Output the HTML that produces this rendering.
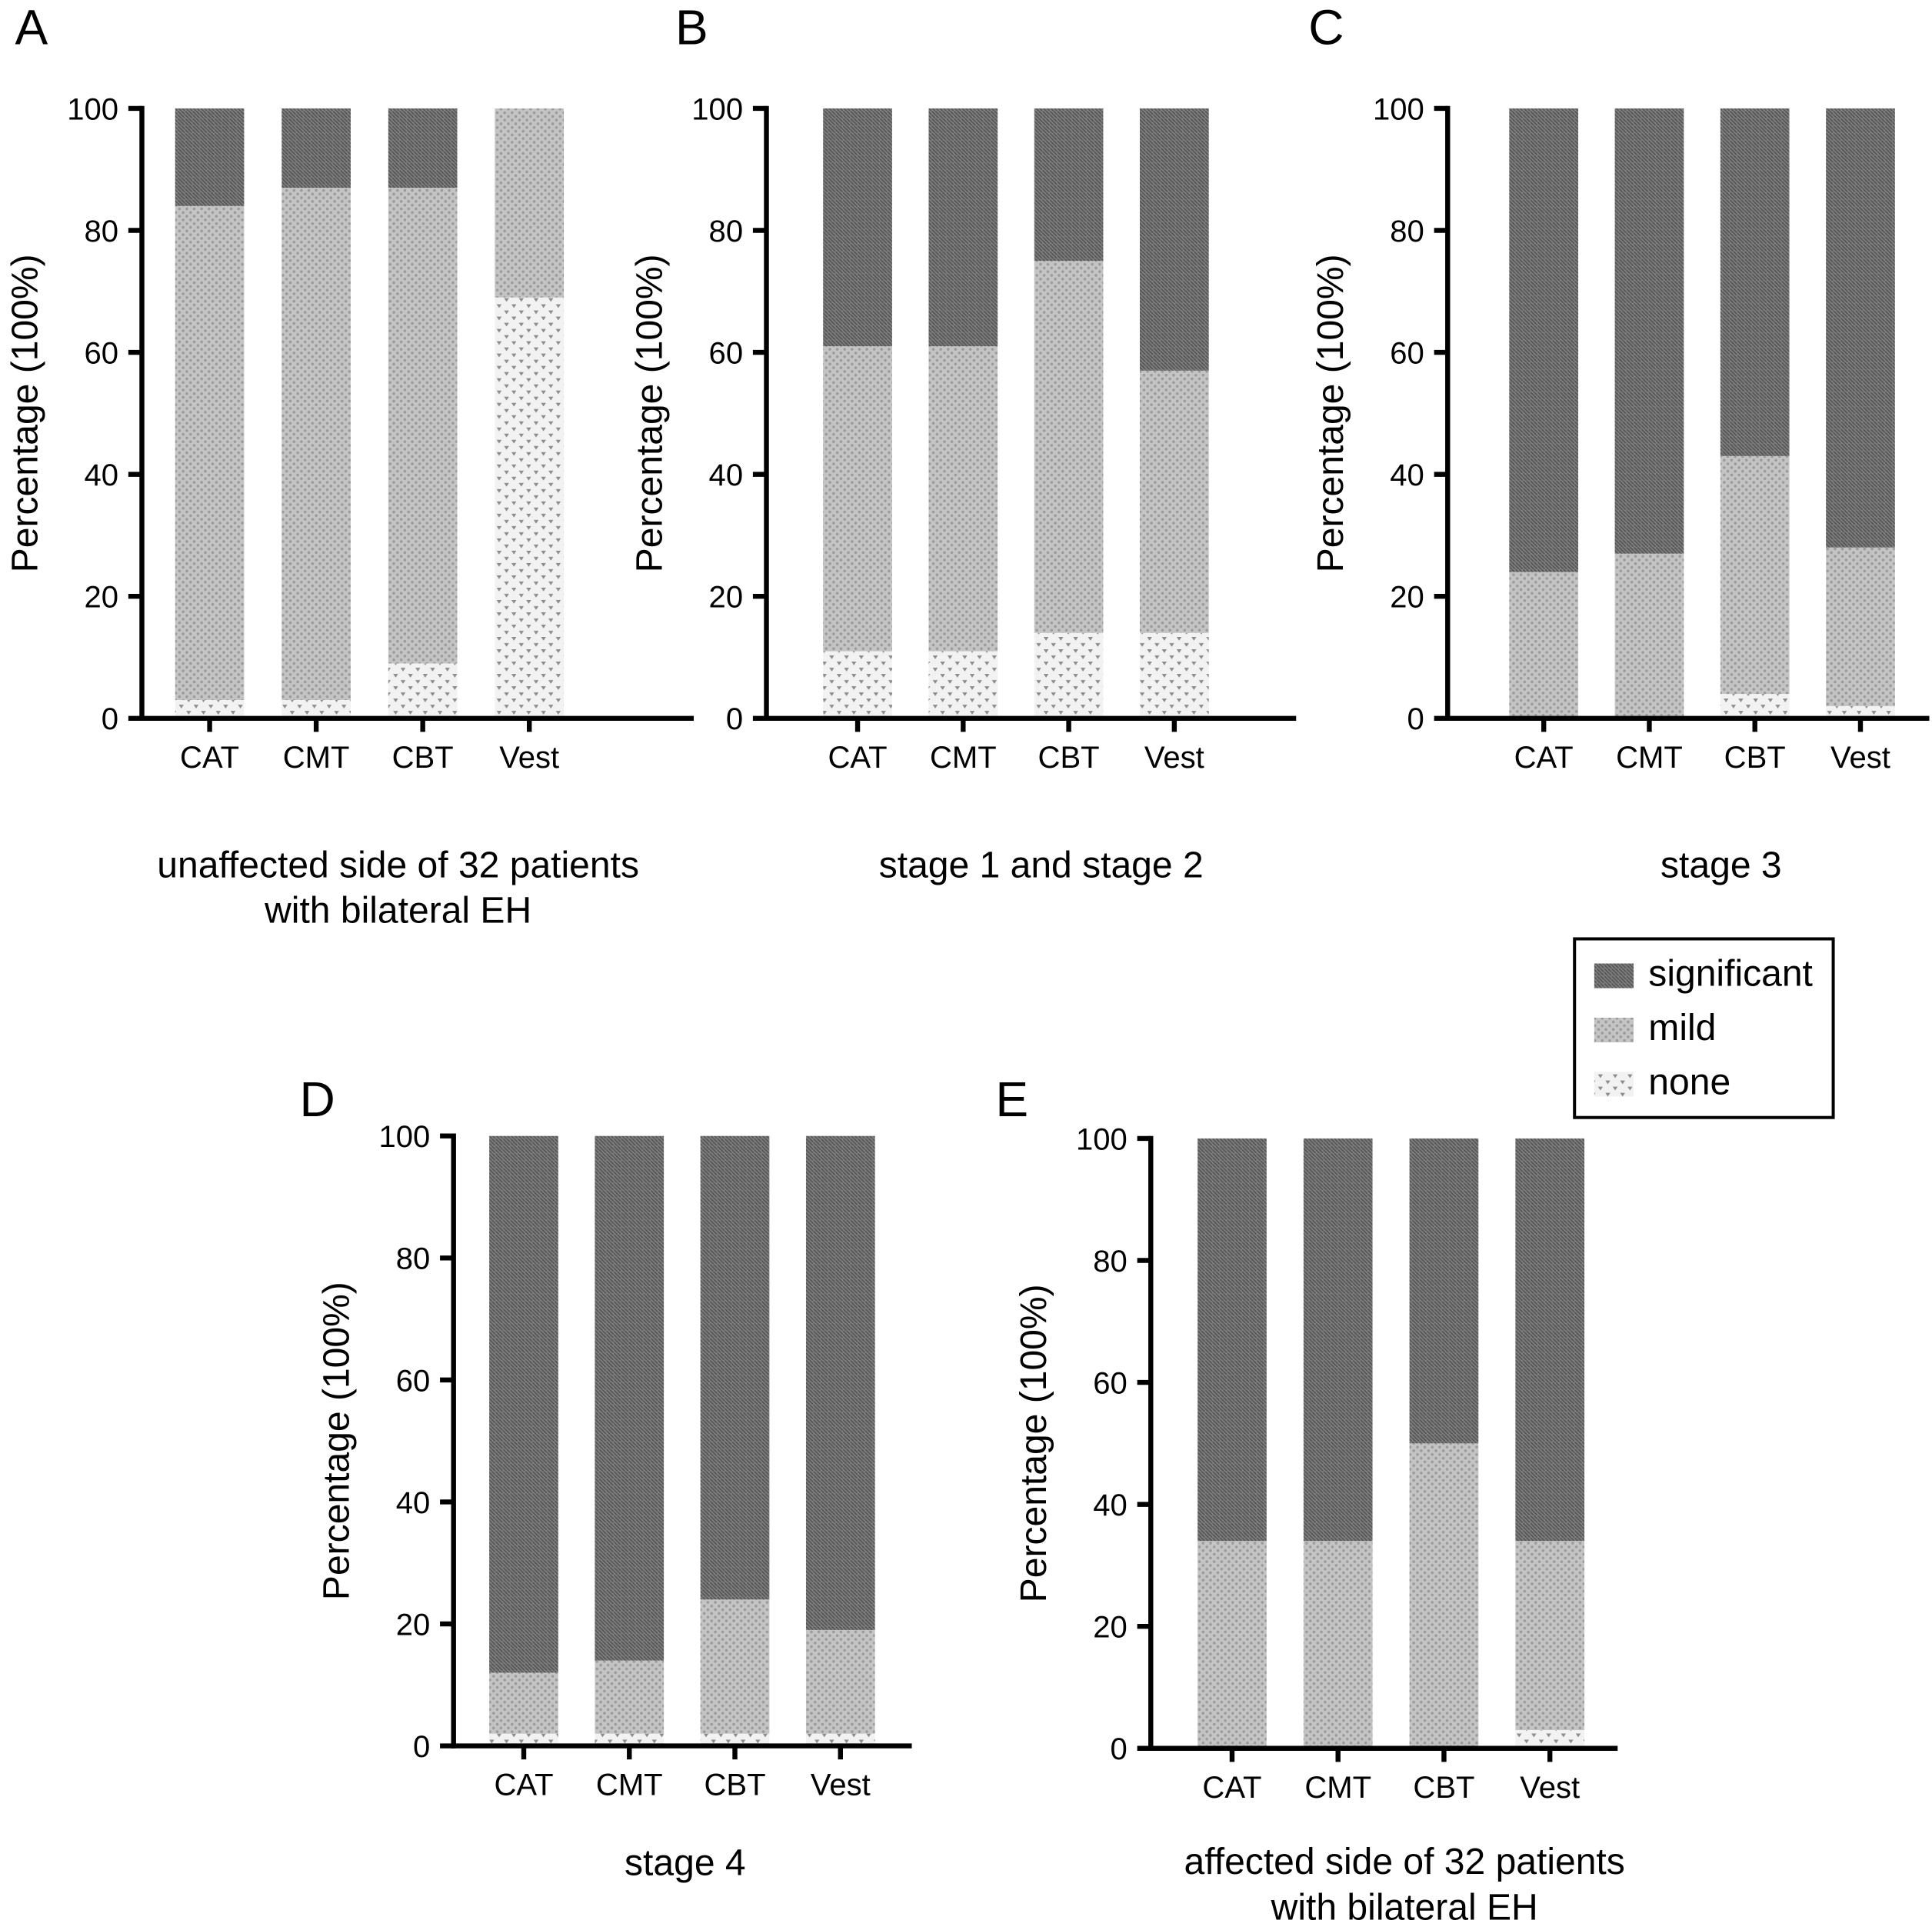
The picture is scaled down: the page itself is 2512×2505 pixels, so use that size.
<!DOCTYPE html>
<html><head><meta charset="utf-8"><style>
html,body{margin:0;padding:0;background:#fff}
svg{display:block}
text{font-family:"Liberation Sans",sans-serif;fill:#000}
</style></head><body>
<svg id="fig" width="2512" height="2505" viewBox="0 0 1568 1564" xmlns="http://www.w3.org/2000/svg">
<defs>
<pattern id="pSig" width="6" height="6" patternUnits="userSpaceOnUse">
<rect width="6" height="6" fill="#858585"/><path d="M0 0L6 6M0 3L3 6M3 0L6 3" stroke="#585858" stroke-width="1.3"/></pattern>
<pattern id="pMild" width="6" height="6" patternUnits="userSpaceOnUse">
<rect width="6" height="6" fill="#c4c4c4"/><circle cx="1.5" cy="1.5" r="1.1" fill="#9a9a9a"/><circle cx="4.5" cy="4.5" r="1.1" fill="#9a9a9a"/></pattern>
<pattern id="pNone" width="12" height="10" patternUnits="userSpaceOnUse">
<rect width="12" height="10" fill="#f2f2f2"/><path d="M1 2L3 5L5 2Z M7 7L9 10L11 7Z" fill="#8c8c8c"/></pattern>
</defs>
<g id="panels"></g>
<g>
<rect x="1278" y="762" width="210" height="145" fill="#fff" stroke="#000" stroke-width="2.5"/>
<rect x="1294" y="782" width="32" height="20" fill="url(#pSig)"/>
<text x="1338" y="800" font-size="30">significant</text>
<rect x="1294" y="826" width="32" height="20" fill="url(#pMild)"/>
<text x="1338" y="844" font-size="30">mild</text>
<rect x="1294" y="870" width="32" height="20" fill="url(#pNone)"/>
<text x="1338" y="888" font-size="30">none</text>
</g>
</svg>
<script>
const categories = ["CAT","CMT","CBT","Vest"];
const yTicks = [0,20,40,60,80,100];
// cumulative tops: none top, mild top (significant to 100)
const noneA = [3,3,9,69], mildA = [84,87,87,100];
const noneB = [11,11,14,14], mildB = [61,61,75,57];
const noneC = [0,0,4,2], mildC = [24,27,43,28];
const noneD = [2,2,2,2], mildD = [12,14,24,19];
const noneE = [0,0,0,3], mildE = [34,34,50,34];

const NS="http://www.w3.org/2000/svg";
const root=document.getElementById('panels');
function mk(tag,attrs,parent){const e=document.createElementNS(NS,tag);for(const k in attrs)e.setAttribute(k,attrs[k]);parent.appendChild(e);return e;}
const panels=[
 {id:'a',letter:'A',lx:12,ly:36,ax:115,y100:88,y0:583,xend:563,b0:142,step:86.5,title:["unaffected side of 32 patients","with bilateral EH"],tx:323,ty:702,none:noneA,mild:mildA},
 {id:'b',letter:'B',lx:548,ly:36,ax:622,y100:88,y0:583,xend:1052,b0:668,step:85.7,title:["stage 1 and stage 2"],tx:845,ty:702,none:noneB,mild:mildB},
 {id:'c',letter:'C',lx:1062,ly:36,ax:1175,y100:88,y0:583,xend:1566,b0:1225,step:85.7,title:["stage 3"],tx:1397,ty:702,none:noneC,mild:mildC},
 {id:'d',letter:'D',lx:243,ly:906,ax:368,y100:922,y0:1417,xend:740,b0:397,step:85.7,title:["stage 4"],tx:556,ty:1512,none:noneD,mild:mildD},
 {id:'e',letter:'E',lx:808,ly:906,ax:934,y100:924,y0:1419,xend:1313,b0:972,step:86,title:["affected side of 32 patients","with bilateral EH"],tx:1140,ty:1511,none:noneE,mild:mildE}
];
const bw=56;
panels.forEach(p=>{
 const g=mk('g',{},root);
 
 
 const y=v=>p.y0-(p.y0-p.y100)*v/100;
 const t=mk('text',{x:p.lx,y:p.ly,'font-size':40},g);t.textContent=p.letter;
 
 
 categories.forEach((c,i)=>{
  const x=p.b0+i*p.step;
  const segs=[[0,p.none[i],'url(#pNone)','none'],[p.none[i],p.mild[i],'url(#pMild)','mild'],[p.mild[i],100,'url(#pSig)','significant']];
  segs.forEach(s=>{ if(s[1]>s[0]){
   const r=mk('rect',{x:x,y:y(s[1]),width:bw,height:y(s[0])-y(s[1]),fill:s[2]},g);
   
   
  }});
  mk('line',{x1:x+bw/2,x2:x+bw/2,y1:p.y0,y2:p.y0+11,stroke:'#000','stroke-width':4},g);
  const l=mk('text',{x:x+bw/2,y:p.y0+40,'font-size':25,'text-anchor':'middle'},g);l.textContent=c;
  
  
 });
 yTicks.forEach(v=>{
  mk('line',{x1:p.ax-11,x2:p.ax,y1:y(v),y2:y(v),stroke:'#000','stroke-width':4},g);
  const l=mk('text',{x:p.ax-19,y:y(v)+9,'font-size':25,'text-anchor':'end'},g);l.textContent=v;
  
  
 });
 mk('line',{x1:p.ax,x2:p.ax,y1:p.y100-2,y2:p.y0+2,stroke:'#000','stroke-width':4},g);
 mk('line',{x1:p.ax-2,x2:p.xend,y1:p.y0,y2:p.y0,stroke:'#000','stroke-width':4},g);
 const cy=(p.y0+p.y100)/2;
 const yt=mk('text',{x:0,y:0,'font-size':30,'text-anchor':'middle',transform:`translate(${p.ax-85},${cy}) rotate(-90)`},g);
 yt.textContent='Percentage (100%)';
 
 
 p.title.forEach((s,k)=>{
  const tt=mk('text',{x:p.tx,y:p.ty+10+k*37,'font-size':30,'text-anchor':'middle'},g);tt.textContent=s;
  
  
 });
});
</script>
</body></html>
